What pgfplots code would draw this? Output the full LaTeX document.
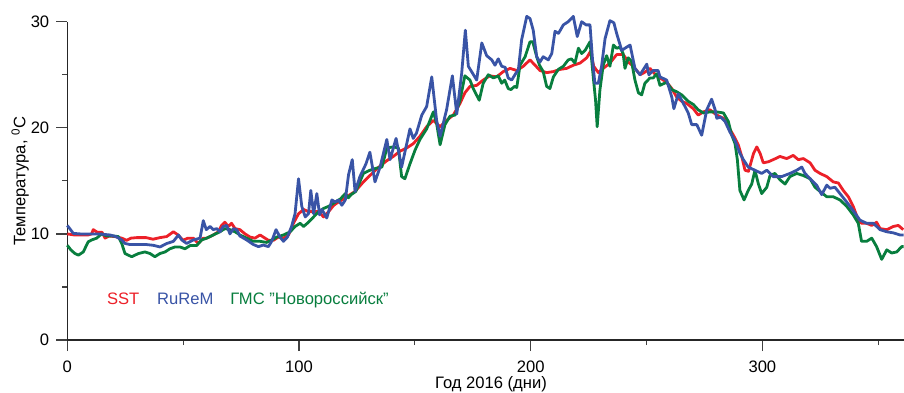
\documentclass[border=0pt]{standalone}
\usepackage{fontspec}
\setmainfont{Liberation Sans}
\usepackage{pgfplots}
\pgfplotsset{compat=1.18}
\definecolor{cred}{RGB}{236,32,40}
\definecolor{cblue}{RGB}{57,84,166}
\definecolor{cgreen}{RGB}{8,126,62}
\newcommand{\fs}{\fontsize{8.3}{10}\selectfont}
\begin{document}
\begin{tikzpicture}
\useasboundingbox (-33.65pt,-26pt) rectangle (418.35pt,170pt);
\begin{axis}[
  at={(0pt,0pt)}, anchor=south west,
  scale only axis, width=418.2pt, height=159.15pt,
  xmin=0, xmax=361, ymin=0, ymax=30,
  axis x line=bottom, axis y line=left,
  axis line style={-, line width=0.7pt, black!85},
  tick align=outside,
  xtick={0,100,200,300}, minor xtick={50,150,250,350},
  ytick={0,10,20,30}, minor ytick={5,15,25},
  major tick length=5.5pt, minor tick length=2.6pt,
  tick style={line width=0.6pt, black!75},
  ticklabel style={font=\fs},
  xticklabel style={yshift=-1.3pt},
  /pgf/number format/assume math mode=true,
  xlabel={Год 2016 (дни)},
  xlabel style={font=\fs, at={(axis description cs:0.5066,0)}, anchor=base, yshift=-24pt},
  ylabel={Температура, \textsuperscript{0}C},
  ylabel style={font=\fs, at={(axis description cs:-0.0502,0.5)}, anchor=base},
  clip=false,
  every axis plot/.append style={line width=1.4pt, line join=round},
]
\addplot[cred] coordinates {
(0,10.0)(3,9.9)(6,9.9)(9,9.9)(10.5,10.0)(11.2,10.4)(13,10.15)(15,10.15)(16.3,9.6)(18,9.8)
(20.5,9.75)(23.5,9.6)(25.6,9.4)(27.5,9.6)(30,9.65)(34,9.65)(37,9.5)(40,9.65)(42.9,9.75)(45.8,10.2)
(47.5,9.95)(50,9.4)(52,9.6)(54.4,9.6)(56.5,9.1)(58.7,9.6)(60.2,9.6)(63,9.9)(65.2,10.2)(66.6,10.8)
(68,11.1)(69.5,10.7)(70.9,11.0)(72.4,10.5)(74.5,10.4)(76.7,10.0)(78.9,9.7)(81,9.6)(83.2,9.9)(84.6,9.7)
(86.8,9.4)(89,9.4)(91.1,9.7)(93.3,9.6)(95.5,9.9)(97.6,11.0)(99.8,11.9)(102,12.3)(104.1,12.1)(106.3,12.1)
(108.5,12.1)(110.6,11.6)(112.8,12.1)(115,12.7)(117,13.0)(119.3,13.3)(122,13.7)(124.2,14.0)(127.8,14.9)(130.6,15.5)
(133,16.0)(135,16.4)(137.9,16.9)(140.7,17.3)(143.6,17.8)(146.5,18.1)(149.3,18.5)(152.2,19.2)(155.1,20.1)(158,20.7)
(160.9,20.1)(163.7,20.7)(166.6,21.2)(169.5,22.3)(171.6,23.3)(173.8,23.9)(176.7,24.0)(179.5,24.5)(182.4,24.9)(185.3,24.8)
(188.2,25.3)(191.1,25.6)(194,25.4)(196.8,25.8)(199.7,26.4)(201.9,25.9)(204,25.4)(206.9,25.2)(209.8,25.3)(212.6,25.5)
(215.5,25.6)(218.4,25.9)(221.3,26.1)(224.2,26.6)(225.8,27.2)(227.2,25.8)(229.2,25.2)(231.3,25.6)(234.2,26.1)(237.1,26.9)
(240,26.9)(242.1,26.2)(244.3,25.8)(247.2,25.0)(249,25.2)(251.5,25.6)(253.5,25.1)(255.8,24.7)(258.7,24.3)(260.9,23.7)
(263,22.9)(265.2,22.5)(267.3,22.3)(270.2,21.8)(272.3,21.2)(274.5,21.5)(277.4,21.7)(280.3,21.2)(283.2,20.9)(285.3,20.1)
(287.5,19.3)(289.6,18.4)(291.1,17.3)(292.5,16.0)(294,15.9)(296.2,17.6)(297.6,18.2)(299,17.6)(300.4,16.7)(302.6,16.8)
(304.7,17.0)(307.6,17.3)(310.5,17.1)(313.3,17.4)(315.5,17.0)(317.7,17.1)(320.6,16.7)(322.7,16.0)(324.9,15.7)(327.8,15.4)
(330.6,14.9)(332.8,14.8)(334.9,14.1)(337.1,13.5)(339.2,12.6)(341.4,11.3)(342.8,11.0)(345,11.0)(347.2,10.8)(349.3,11.1)
(350.8,10.5)(353.7,10.4)(356.5,10.7)(358.7,10.8)(360.8,10.4)
};
\addplot[cgreen] coordinates {
(0,8.93)(1.5,8.5)(3.3,8.15)(4.8,8.0)(6.9,8.3)(9,9.25)(10.5,9.43)(12.7,9.6)(14.8,10.0)(17,9.8)
(19.9,9.8)(22,9.75)(23.5,9.1)(24.9,8.15)(26.3,8.0)(27.8,7.85)(30.7,8.15)(33.5,8.3)(35.7,8.15)(37.8,7.85)
(40,8.15)(42.2,8.3)(44.3,8.6)(46.5,8.77)(48.6,8.77)(50.8,8.6)(53,8.9)(55.8,8.9)(58,9.43)(60.2,9.6)
(63,9.9)(65.9,10.2)(68,10.5)(70.2,10.4)(72.4,10.2)(74.5,9.9)(77.4,9.6)(80.3,9.3)(83.2,9.3)(86,9.2)
(88.2,9.4)(90.4,9.7)(93.3,9.9)(96.2,10.2)(98.3,10.7)(100.5,11.0)(102,10.7)(104.1,11.1)(106.3,11.6)(108.5,12.1)
(110.6,12.4)(112.8,12.6)(115,12.9)(117.9,13.3)(120,13.8)(121.3,13.4)(122.5,13.7)(124.5,14.0)(127.8,15.7)(130.6,16.0)
(133.5,16.2)(135.8,16.3)(137.9,18.1)(140.7,18.2)(142.9,18.1)(144.3,15.4)(145.7,15.2)(147.9,16.6)(150.1,17.9)(152.2,18.9)
(155.1,19.9)(158,21.5)(159.4,20.4)(160.9,18.4)(163,20.3)(165.2,21.1)(167.4,21.2)(169.5,22.6)(171.6,24.9)(173.8,24.5)
(175.2,23.7)(177.8,22.6)(179.5,24.2)(181.7,25.0)(183.9,24.7)(186,24.9)(187.5,24.2)(188.8,24.5)(190.3,23.7)(191.5,23.6)
(193,23.9)(194,23.8)(195.4,25.9)(197.6,26.7)(199.7,28.1)(200.9,28.1)(202.6,26.7)(203.8,25.9)(205.4,25.3)(206.9,23.9)
(208.3,23.7)(209.8,24.8)(211.9,25.5)(214.1,25.8)(216.2,26.4)(217.6,26.5)(219.1,26.1)(220.6,27.5)(222,27.0)(223.5,27.3)
(225.6,28.1)(227,24.8)(228,22.6)(228.7,20.1)(229.9,23.6)(231.3,25.9)(232.8,26.8)(234.2,25.8)(235.7,27.8)(237.1,27.5)
(238.5,27.6)(239.9,27.0)(240.7,25.6)(242.1,26.6)(243.5,26.3)(245,24.5)(246.5,23.3)(247.9,23.1)(249.3,24.2)(251.5,24.7)
(252.9,24.7)(254.4,25.1)(255.8,24.0)(258.7,24.3)(260.9,23.6)(263,23.4)(265.2,23.1)(268,22.5)(270.2,22.2)(272.3,21.7)
(274.5,21.4)(277.4,21.5)(280.3,21.5)(283.2,21.4)(285.3,20.6)(286.8,19.3)(288.2,18.5)(289.2,17.0)(290.3,14.1)(292.1,13.2)
(293.9,14.1)(295.4,14.7)(296.8,16.0)(298.3,14.7)(299.7,13.8)(301.9,14.4)(303.3,15.5)(305.4,15.7)(307.6,15.1)(309.8,14.7)
(311.9,15.4)(314.8,15.7)(317.7,15.5)(320.6,15.2)(322.7,14.4)(324.9,14.0)(327.8,13.5)(330.6,13.5)(333.5,13.2)(336.4,12.6)
(339.2,11.8)(341.4,11.0)(342.8,9.3)(345,9.3)(347.2,9.6)(349.3,8.8)(351.5,7.6)(353.7,8.5)(355.8,8.2)(358,8.3)
(360.1,8.8)(361,8.8)
};
\addplot[cblue] coordinates {
(0,10.8)(2.6,10.05)(5.5,10.0)(10,10.0)(14,10.0)(16,9.95)(18.4,9.9)(21,9.75)(23.5,9.43)(24.9,9.1)
(27,9.0)(30,9.0)(34,9.0)(37,8.93)(40,8.77)(43,9.1)(45.8,9.3)(48,9.9)(49.4,9.43)(51.5,9.1)
(54.4,9.43)(57.3,9.6)(58.7,11.25)(60,10.4)(61.6,10.7)(63,10.4)(64.5,10.5)(65.9,10.2)(67.3,10.7)(68.8,10.8)
(70.2,10.0)(71.7,10.5)(73.1,10.4)(74.5,9.8)(77.4,9.43)(80.3,9.0)(82.5,8.8)(84.6,8.95)(86.8,8.8)(88.2,9.3)
(90.1,10.4)(91.8,9.7)(93.3,9.3)(95,9.7)(96.8,10.7)(98.3,11.9)(99.8,15.2)(101.2,12.6)(102.7,11.6)(104.1,11.9)
(105.1,14.1)(106.3,11.9)(107.7,13.8)(108.9,11.8)(109.9,12.3)(112,11.5)(114.2,13.2)(115.6,13.0)(117,13.2)(118.5,12.7)
(120,13.2)(121.4,15.6)(123,17.0)(124.2,14.0)(126.3,15.4)(128.9,16.6)(130.6,17.7)(132.8,14.9)(135,16.3)(137.9,18.9)
(139.3,17.0)(141.9,19.0)(144.3,16.3)(147.9,19.9)(149.3,19.0)(150.7,19.5)(153,21.2)(155.1,22.0)(157.3,24.8)(159.4,20.7)
(160.9,19.2)(163.7,21.7)(166.2,24.9)(168.1,21.3)(170.2,25.1)(171.8,29.2)(173.1,25.8)(176.7,24.5)(178.9,28.0)(181,26.8)
(183.2,26.4)(184.6,25.9)(186,26.5)(187.5,25.8)(189,25.7)(190.3,24.7)(191.8,24.5)(193.2,25.0)(194.7,25.5)(196.1,28.3)
(198.3,30.5)(199.7,30.3)(201.1,29.2)(202.6,26.7)(204,26.2)(205.4,26.7)(207.6,26.4)(209.1,27.0)(210.5,29.1)(212,28.9)
(214.1,29.7)(216.2,30.0)(218.4,30.5)(220.1,28.6)(222,30.0)(223.9,29.7)(225.6,29.7)(226.7,26.4)(227.7,24.2)(229.2,24.2)
(230.6,25.8)(232.1,28.4)(234.2,30.1)(235.9,29.9)(237.1,28.9)(239.3,27.3)(241.4,27.6)(242.9,27.8)(245,25.6)(247.2,25.0)
(250.1,26.0)(251,25.0)(252.9,25.4)(255,25.4)(255.8,24.8)(258.7,24.5)(260.9,22.9)(261.8,21.8)(263.7,23.2)(265.9,22.3)
(268,21.4)(269.5,20.3)(271.7,20.3)(273.8,19.3)(276,21.7)(278.1,22.7)(279.6,21.7)(280.3,20.9)(282,21.0)(283.9,20.6)
(286,19.6)(288.2,18.8)(290.3,17.6)(291.8,17.0)(293.9,16.3)(296.8,16.0)(299.7,15.7)(301.9,16.0)(304.7,15.4)(308.3,15.4)
(311.9,15.7)(314.8,16.0)(317,16.3)(318.4,15.7)(320.6,15.2)(323.4,14.6)(325.6,13.7)(327.8,14.6)(329.2,14.3)(331.3,14.4)
(333.5,13.8)(336.4,13.0)(339.2,12.2)(342.1,11.3)(345,11.0)(347.9,11.0)(350.8,10.4)(353.7,10.2)(356.5,10.1)(359.4,9.9)
(361,9.9)
};
\node[anchor=base west, text=cred, font=\fs, inner sep=0pt] at (axis cs:17,3.36) {SST};
\node[anchor=base west, text=cblue, font=\fs, inner sep=0pt] at (axis cs:38.6,3.36) {RuReM};
\node[anchor=base west, text=cgreen, font=\fs, inner sep=0pt] at (axis cs:70.2,3.36) {ГМС "Новороссийск"};
\end{axis}
\end{tikzpicture}
\end{document}
